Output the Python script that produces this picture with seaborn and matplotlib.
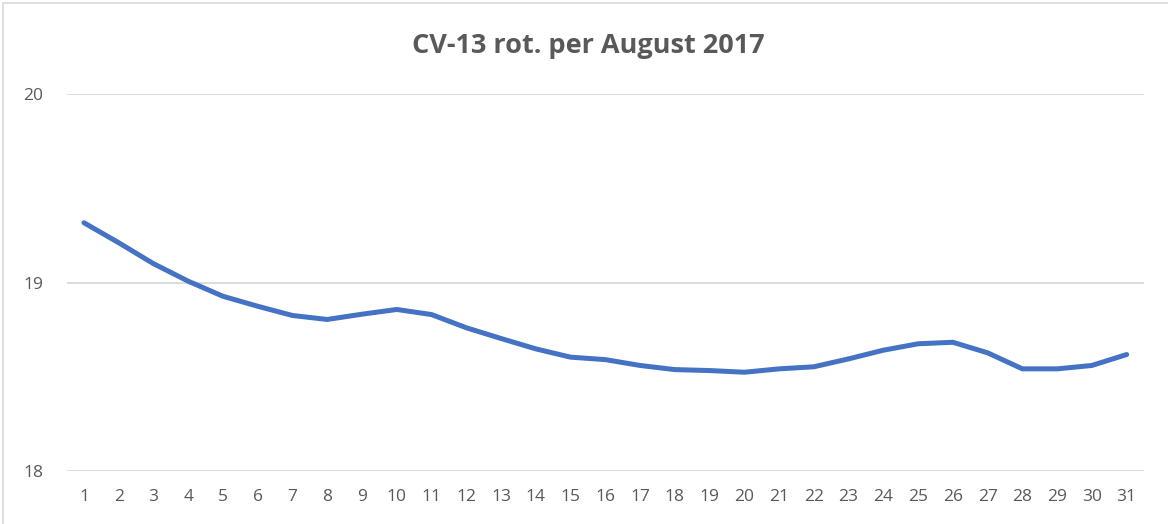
import numpy as np
import pandas as pd
import seaborn as sns
import matplotlib
matplotlib.use('Agg')
import matplotlib.pyplot as plt
from matplotlib.patches import Rectangle

# CV-13 rot. values per day, August 2017
days = list(range(1, 32))
rot = [19.317, 19.211, 19.100, 19.007, 18.927, 18.874, 18.825, 18.804, 18.832, 18.857,
       18.830, 18.760, 18.703, 18.648, 18.604, 18.591, 18.560, 18.538, 18.533, 18.524,
       18.542, 18.553, 18.595, 18.641, 18.675, 18.683, 18.627, 18.542, 18.542, 18.560,
       18.618]
y_ticks = [18, 19, 20]

df = pd.DataFrame({"day": days, "rot": rot})

sns.set_theme(style="white")
plt.rcParams['font.family'] = ['Open Sans', 'DejaVu Sans']

txt = "#595959"
fig = plt.figure(figsize=(11.68, 5.24), dpi=100)
ax = fig.add_axes([0.057, 0.1011, 0.9225, 0.7195])

sns.lineplot(data=df, x="day", y="rot", ax=ax, color="#4472C4", linewidth=3.6,
             solid_capstyle="round", solid_joinstyle="round")

ax.set_xlim(0.5, 31.5)
ax.set_ylim(18, 20)
ax.set_xticks(days)
ax.set_xticklabels([str(d) for d in days])
ax.set_yticks(y_ticks)
ax.yaxis.grid(True, color="#d9d9d9", linewidth=1.3)
ax.xaxis.grid(False)
for s in ax.spines.values():
    s.set_visible(False)
ax.tick_params(axis="both", length=0, labelsize=12.5, labelcolor=txt)
ax.tick_params(axis="x", pad=13)
ax.tick_params(axis="y", pad=17)
ax.set_xlabel("")
ax.set_ylabel("")

fig.text(0.504, 0.913, "CV-13 rot. per August 2017", ha="center", va="center",
         fontsize=19.5, fontweight="bold", color=txt)

# chart border
fig.patches.append(Rectangle((3 / 1168, -0.1), 1.2, 1.1 - 3 / 524, transform=fig.transFigure,
                             fill=False, edgecolor="#d9d9d9", linewidth=1.2))

fig.savefig("out.png", dpi=100)
